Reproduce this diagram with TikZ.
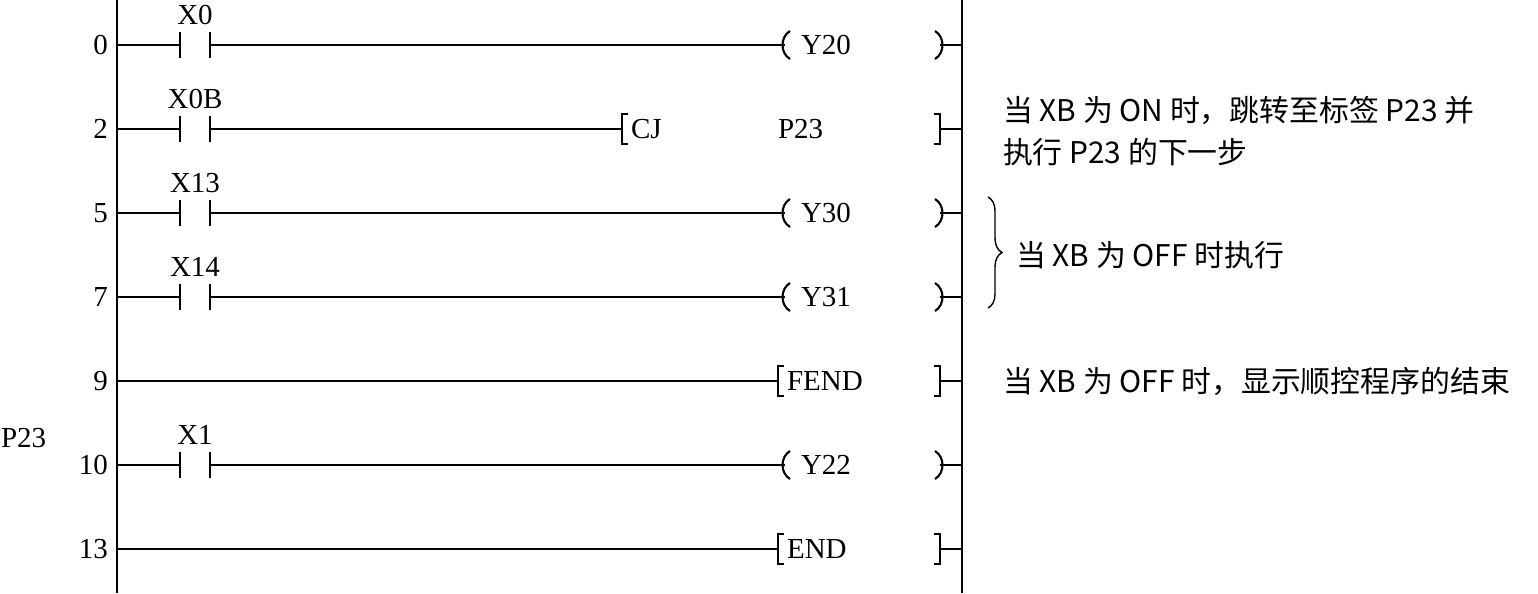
\documentclass[tikz,border=0pt]{standalone}
\usepackage{fontspec}
\setmainfont{Liberation Serif}
\newfontfamily\cjk{Noto Sans CJK SC}
\usetikzlibrary{decorations.pathreplacing}
\begin{document}
\begin{tikzpicture}[x=0.02cm,y=-0.02cm,line width=1.2pt,
  lbl/.style={font=\fontsize{16.5}{19}\selectfont,inner sep=0pt},
  note/.style={font=\fontsize{17}{20}\selectfont\cjk,inner sep=0pt,anchor=west}]
\useasboundingbox (0,0) rectangle (1538,593);
\draw (117,0) -- (117,593);
\draw (962,0) -- (962,593);
\newcommand\contact[3]{% y, label, name
  \coordinate (#3a) at (180,#1); \coordinate (#3b) at (210,#1);
  \draw (117,#1) -- (#3a); \draw (180,#1-13) -- (180,#1+13);
  \draw (210,#1-13) -- (210,#1+13);
  \node[lbl] (#3l) at (195,#1-30) {#2};}
\newcommand\coil[4]{% from x, y, text, name
  \coordinate (#4l) at (785,#2); \coordinate (#4r) at (940,#2);
  \draw (#1,#2) -- (#4l);
  \draw (790,#2-14) .. controls (780,#2-8) and (780,#2+8) .. (790,#2+14);
  \draw (935,#2-14) .. controls (945,#2-8) and (945,#2+8) .. (935,#2+14);
  \node[lbl,anchor=west] (#4t) at (800,#2) {#3};
  \draw (#4r) -- (962,#2);}
\newcommand\brk[5]{% from x, bracket x, y, text, name
  \coordinate (#5l) at (#2,#3); \draw (#1,#3) -- (#5l);
  \draw (#2+6,#3-15) -- (#2,#3-15) -- (#2,#3+15) -- (#2+6,#3+15);
  \draw (934,#3-15) -- (940,#3-15) -- (940,#3+15) -- (934,#3+15);
  \node[lbl,anchor=west] (#5t) at (#2+8,#3) {#4};
  \draw (940,#3) -- (962,#3);}
\foreach \n/\y in {0/45,2/129,5/213,7/297,9/381,10/465,13/549}
  \node[lbl,anchor=east] (s\n) at (109,\y) {\n};
\contact{45}{X0}{c0}\coil{210}{45}{Y20}{k0}
\contact{129}{X0B}{c2}\brk{210}{622}{129}{CJ}{b2}
\node[lbl,anchor=west] (p23r) at (777,129) {P23};
\contact{213}{X13}{c5}\coil{210}{213}{Y30}{k5}
\contact{297}{X14}{c7}\coil{210}{297}{Y31}{k7}
\brk{117}{778}{381}{FEND}{b9}
\contact{465}{X1}{c10}\coil{210}{465}{Y22}{k10}
\brk{117}{778}{549}{END}{b13}
\node[lbl,anchor=west] (p23) at (0,438) {P23};
\node[note] (n1) at (1002,110) {当 XB 为 ON 时，跳转至标签 P23 并};
\node[note] (n2) at (1002,152) {执行 P23 的下一步};
\draw[line width=0.8pt,decorate,decoration={brace,amplitude=8pt}] (988,197) -- (988,308);
\node[note] (n3) at (1015,255) {当 XB 为 OFF 时执行};
\node[note] (n4) at (1002,381) {当 XB 为 OFF 时，显示顺控程序的结束};
\end{tikzpicture}
\end{document}
